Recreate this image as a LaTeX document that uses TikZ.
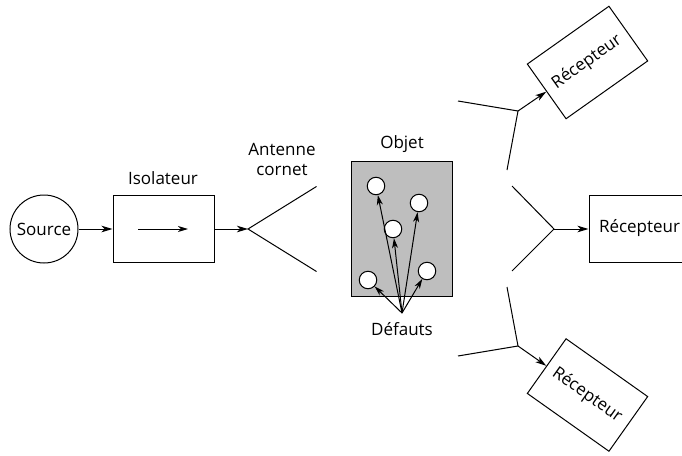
\documentclass[tikz,border=0pt]{standalone}
\usepackage{fontspec}
\setmainfont{Open Sans}
\usetikzlibrary{arrows.meta}
\definecolor{objgray}{HTML}{BEBEBE}
\tikzset{
  every node/.style={font=\fontsize{17}{20}\selectfont, inner sep=0pt},
  wire/.style={line width=1pt},
  arrowline/.style={line width=1pt, -{Stealth[length=11pt,width=6.5pt,inset=3pt]}},
  thinarrow/.style={line width=1pt, -{Stealth[length=10pt,width=6pt,inset=3pt]}},
  boxnode/.style={draw, line width=1pt, minimum width=101pt, minimum height=67pt},
  rxbox/.style={draw, line width=1pt, minimum width=100pt, minimum height=67pt},
  defect/.style={circle, draw, fill=white, line width=1pt, minimum size=17.5pt},
}
\begin{document}
\begin{tikzpicture}[x=1pt,y=-1pt]
\useasboundingbox (0,0) rectangle (682,455);
\node[circle,draw,line width=1pt,minimum size=68pt] (src) at (44,229) {Source};
\node[boxnode] (iso) at (163.5,228.5) {};
\node (isolabel) at (163,178) {Isolateur};
\coordinate (isoa) at (138,229);
\coordinate (isob) at (188,229);
\draw[thinarrow] (isoa) -- (isob);
\draw[arrowline] (src) -- (iso.west |- src);
\coordinate (apex) at (248,229);
\coordinate (hornT) at (316.5,186.5);
\coordinate (hornB) at (316.5,271.5);
\draw[arrowline] (iso.east |- apex) -- (apex);
\draw[wire] (hornT) -- (apex) -- (hornB);
\node[align=center,font=\fontsize{17}{20}\selectfont] (hornlabel) at (282,159.5) {Antenne\\cornet};
\node[draw,line width=1pt,fill=objgray,minimum width=101pt,minimum height=135pt] (obj) at (401.5,228.5) {};
\node (objlabel) at (402,144) {Objet};
\node[defect] (d1) at (376,186) {};
\node[defect] (d2) at (419,203) {};
\node[defect] (d3) at (393,229) {};
\node[defect] (d4) at (368,280) {};
\node[defect] (d5) at (427,271) {};
\coordinate (hub) at (402,313);
\node (deflabel) at (402,329) {Défauts};
\foreach \d in {d1,d2,d3,d4,d5} \draw[thinarrow] (hub) -- (\d);
% top receiver
\coordinate (ta) at (518,111);
\coordinate (ta1) at (458,101);
\coordinate (ta2) at (507,170);
\node[rxbox,rotate=35.3] (rt) at (587.5,62.5) {};
\node[rotate=35.3] (rtlabel) at (587,62) {Récepteur};
\draw[wire] (ta1) -- (ta) -- (ta2);
\draw[arrowline] (ta) -- (rt.west);
% middle receiver
\coordinate (ma) at (554,229);
\coordinate (ma1) at (512,186);
\coordinate (ma2) at (512,271);
\node[draw,line width=1pt,minimum width=101pt,minimum height=67pt] (rm) at (639.5,228.5) {Récepteur};
\draw[wire] (ma1) -- (ma) -- (ma2);
\draw[arrowline] (ma) -- (rm.west |- ma);
% bottom receiver
\coordinate (ba) at (518,346);
\coordinate (ba1) at (458,356);
\coordinate (ba2) at (507,287);
\node[rxbox,rotate=-35.3] (rb) at (587.5,395) {};
\node[rotate=-35.3] (rblabel) at (587,395) {Récepteur};
\draw[wire] (ba1) -- (ba) -- (ba2);
\draw[arrowline] (ba) -- (rb.west);
\end{tikzpicture}
\end{document}
